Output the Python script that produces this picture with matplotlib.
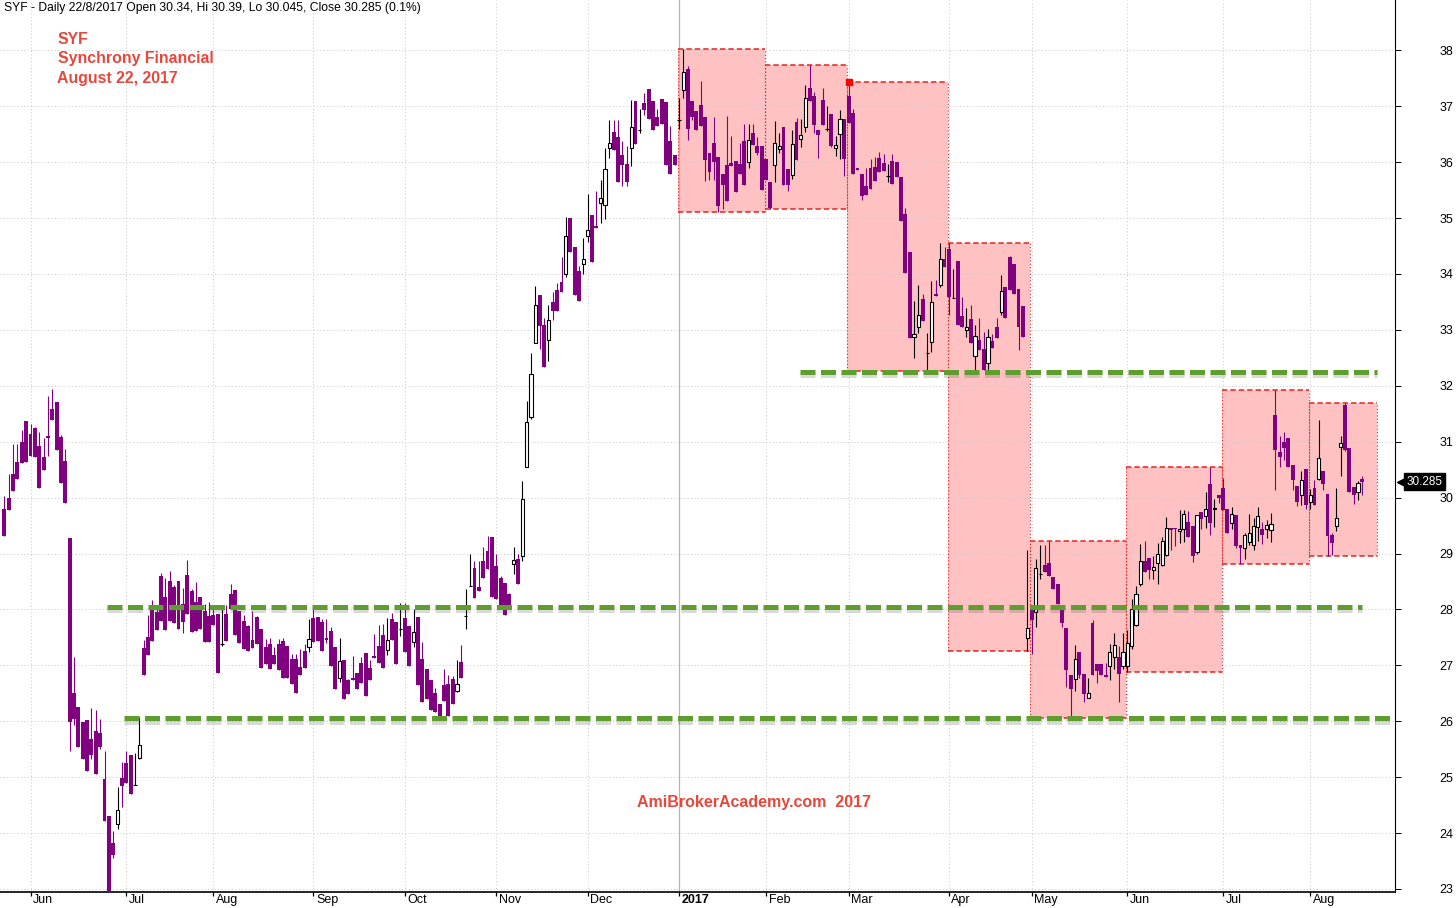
import numpy as np
import matplotlib
matplotlib.use("Agg")
import matplotlib.pyplot as plt
import matplotlib.patheffects as pe
from matplotlib.patches import Rectangle
from matplotlib.transforms import blended_transform_factory, ScaledTranslation

# -------------------------------------------------------
# DATA: daily bars (open, high, low, close), one list per month
# -------------------------------------------------------
may16 = [(29.79, 30.02, 29.31, 29.31), (29.99, 30.42, 29.77, 29.77), (30.43, 30.96, 30.11, 30.11),
         (30.64, 30.96, 30.34, 30.34), (31.00, 31.21, 30.62, 30.62), (31.37, 31.37, 30.64, 30.64)]
jun16 = [(31.14, 31.32, 30.74, 30.74), (31.24, 31.27, 30.72, 30.72), (30.93, 31.18, 30.18, 30.18),
         (30.73, 31.07, 30.49, 30.49), (31.11, 31.82, 30.74, 31.06), (31.59, 31.95, 31.38, 31.38),
         (31.71, 31.71, 30.86, 30.86), (31.09, 31.12, 30.26, 30.26), (30.66, 30.87, 29.90, 29.90),
         (29.27, 29.27, 25.47, 25.99), (26.50, 27.15, 25.94, 26.04), (26.25, 26.26, 25.54, 25.54),
         (25.99, 25.99, 25.32, 25.32), (26.02, 26.02, 25.11, 25.11), (25.68, 26.23, 25.33, 25.40),
         (25.83, 26.21, 25.05, 25.05), (25.79, 26.04, 25.50, 25.54), (24.96, 25.47, 24.22, 24.22),
         (24.30, 24.30, 22.80, 22.90), (23.82, 24.04, 23.55, 23.60), (24.17, 24.82, 24.08, 24.41),
         (24.98, 25.27, 24.47, 24.85)]
jul16 = [(25.25, 25.46, 24.90, 24.90), (25.39, 25.39, 24.69, 24.69), (24.86, 25.44, 24.86, 24.86),
         (25.35, 26.07, 25.33, 25.57), (27.31, 27.46, 26.83, 26.83), (27.51, 27.90, 27.19, 27.19),
         (28.01, 28.16, 27.44, 27.44), (27.96, 28.04, 27.64, 27.64), (28.60, 28.65, 27.80, 27.80),
         (28.22, 28.56, 27.64, 27.64), (28.51, 28.69, 27.80, 27.80), (28.40, 28.43, 27.76, 27.76),
         (28.51, 28.51, 27.65, 27.65), (28.10, 28.39, 27.58, 27.77), (28.62, 28.89, 27.92, 27.92),
         (28.33, 28.37, 27.60, 27.60), (28.13, 28.49, 27.62, 27.62), (28.22, 28.22, 27.65, 27.65),
         (27.98, 28.10, 27.42, 27.42), (27.89, 28.13, 27.41, 27.41)]
aug16 = [(27.90, 28.07, 27.72, 27.72), (27.92, 27.92, 26.87, 26.87), (27.39, 28.02, 27.35, 27.39),
         (27.92, 28.08, 27.44, 27.44), (28.28, 28.46, 28.01, 28.01), (28.35, 28.35, 27.55, 27.55),
         (27.98, 27.98, 27.40, 27.40), (27.80, 27.90, 27.29, 27.29), (27.70, 27.72, 27.26, 27.26),
         (27.46, 27.98, 27.31, 27.31), (27.86, 27.88, 27.38, 27.38), (27.65, 27.65, 26.96, 26.96),
         (27.33, 27.47, 27.03, 27.03), (27.39, 27.49, 26.93, 26.93), (27.18, 27.32, 27.02, 27.02),
         (27.38, 27.47, 26.92, 26.92), (27.43, 27.49, 26.77, 26.77), (27.35, 27.35, 26.77, 26.77),
         (27.11, 27.21, 26.67, 26.67), (27.11, 27.20, 26.51, 26.51), (26.97, 27.29, 26.83, 26.83),
         (27.26, 27.38, 26.96, 26.96), (27.32, 27.83, 27.24, 27.48)]
sep16 = [(27.85, 28.00, 27.41, 27.41), (27.87, 27.87, 27.44, 27.44), (27.77, 27.83, 27.26, 27.26),
         (27.49, 27.83, 27.40, 27.46), (27.62, 27.68, 26.99, 26.99), (27.33, 27.33, 26.58, 26.58),
         (26.78, 27.49, 26.70, 27.08), (27.10, 27.10, 26.39, 26.39), (26.74, 26.76, 26.49, 26.49),
         (26.78, 27.16, 26.73, 26.73), (26.86, 26.86, 26.57, 26.57), (27.04, 27.15, 26.68, 26.68),
         (27.22, 27.22, 26.45, 26.45), (26.96, 27.10, 26.73, 26.73), (27.17, 27.56, 27.14, 27.14),
         (27.34, 27.72, 27.05, 27.05), (27.55, 27.74, 26.96, 26.96), (27.27, 27.85, 27.18, 27.46),
         (27.83, 27.93, 27.46, 27.46), (27.78, 27.78, 27.02, 27.02), (27.65, 28.11, 27.52, 27.65)]
oct16 = [(27.85, 28.11, 27.23, 27.23), (27.71, 27.71, 26.98, 26.98), (27.41, 28.00, 27.32, 27.59),
         (27.86, 27.86, 26.65, 26.65), (27.11, 27.41, 26.34, 26.34), (26.93, 26.93, 26.40, 26.40),
         (26.74, 26.74, 26.21, 26.21), (26.50, 26.60, 26.17, 26.17), (26.30, 26.30, 26.04, 26.10),
         (26.65, 26.93, 26.37, 26.37), (26.67, 26.82, 26.10, 26.10), (26.76, 26.81, 26.31, 26.31),
         (26.54, 27.10, 26.52, 26.66), (27.06, 27.36, 26.78, 26.78), (27.88, 28.36, 27.65, 27.88),
         (28.42, 29.00, 28.42, 28.42), (28.74, 28.87, 28.21, 28.21), (28.40, 28.87, 28.33, 28.33),
         (28.86, 29.12, 28.56, 28.56), (29.04, 29.31, 28.72, 28.72), (29.29, 29.29, 28.23, 28.23)]
nov16 = [(28.77, 28.99, 28.18, 28.18), (28.56, 28.60, 28.07, 28.07), (28.48, 28.48, 27.90, 27.90),
         (28.27, 28.30, 28.00, 28.00), (28.82, 29.11, 28.64, 28.88), (28.90, 28.99, 28.45, 28.45),
         (28.95, 30.29, 28.86, 29.98), (30.55, 31.73, 30.54, 31.36), (31.44, 32.59, 31.40, 32.21),
         (32.77, 33.79, 32.77, 33.45), (33.63, 33.63, 32.65, 33.07), (33.08, 33.21, 32.33, 32.33),
         (32.82, 33.45, 32.44, 33.17), (33.49, 33.67, 33.17, 33.33), (33.72, 33.83, 33.33, 33.33),
         (33.85, 34.31, 33.68, 33.68), (34.00, 35.01, 33.94, 34.68), (35.00, 35.00, 34.40, 34.40),
         (34.49, 34.49, 33.62, 33.62), (34.06, 34.15, 33.51, 33.51), (34.18, 34.64, 34.00, 34.27)]
dec16 = [(34.68, 35.43, 34.58, 34.79), (35.06, 35.06, 34.21, 34.21), (34.85, 35.48, 34.82, 34.82),
         (35.27, 35.68, 34.92, 35.36), (35.23, 36.25, 34.99, 35.88), (36.26, 36.76, 36.08, 36.34),
         (36.54, 36.76, 36.22, 36.22), (36.45, 36.76, 35.64, 35.64), (36.13, 36.37, 35.58, 35.95),
         (35.96, 36.28, 35.58, 35.64), (36.25, 37.11, 35.93, 36.63), (37.10, 37.10, 36.32, 36.32),
         (36.58, 36.95, 36.52, 36.58), (37.06, 37.24, 36.85, 36.93), (37.31, 37.31, 36.78, 36.78),
         (37.10, 37.10, 36.57, 36.57), (36.81, 36.95, 36.65, 36.65), (37.13, 37.13, 36.69, 36.69),
         (37.08, 37.08, 35.94, 35.94), (36.38, 36.65, 35.78, 35.78), (36.13, 36.13, 35.95, 35.95)]
jan17 = [(36.75, 37.15, 36.60, 36.75), (37.29, 38.03, 37.14, 37.61), (37.67, 37.72, 36.40, 36.60),
         (37.10, 37.10, 36.75, 36.80), (36.92, 36.92, 36.58, 36.58), (37.02, 37.46, 36.65, 36.65),
         (36.81, 36.81, 35.67, 36.04), (36.16, 36.16, 35.68, 35.83), (36.35, 36.81, 35.68, 36.00),
         (36.10, 36.10, 35.10, 35.21), (35.79, 35.79, 35.17, 35.60), (35.95, 36.82, 35.31, 35.31),
         (35.98, 36.46, 35.93, 35.93), (36.02, 36.02, 35.47, 35.47), (35.97, 36.35, 35.78, 35.78),
         (36.37, 36.68, 35.60, 35.60), (36.01, 36.68, 35.89, 36.39), (36.52, 36.68, 36.31, 36.31),
         (36.29, 36.45, 36.13, 36.16), (36.29, 36.29, 35.51, 35.51)]
feb17 = [(36.06, 36.06, 35.68, 35.68), (35.65, 35.65, 35.16, 35.18), (35.94, 36.73, 35.65, 36.34),
         (36.24, 36.52, 36.17, 36.29), (36.63, 36.63, 35.60, 35.60), (35.88, 35.88, 35.49, 35.60),
         (35.77, 36.58, 35.69, 36.32), (36.72, 36.79, 36.04, 36.04), (36.42, 36.77, 36.27, 36.48),
         (36.62, 37.38, 36.54, 37.14), (37.32, 37.74, 37.10, 37.10), (37.18, 37.26, 36.53, 36.67),
         (36.58, 36.58, 36.07, 36.49), (37.11, 37.32, 36.67, 36.67), (36.60, 37.00, 36.55, 36.60),
         (36.86, 36.86, 36.27, 36.29), (36.25, 36.47, 36.11, 36.30), (36.50, 36.93, 36.06, 36.77),
         (36.77, 36.77, 35.76, 36.06)]
mar17 = [(37.18, 37.43, 36.70, 36.70), (36.88, 36.95, 35.78, 35.78), (35.90, 35.90, 35.86, 35.86),
         (35.78, 35.78, 35.32, 35.39), (35.57, 35.90, 35.41, 35.41), (35.90, 36.06, 35.52, 35.52),
         (35.92, 36.10, 35.66, 35.66), (36.08, 36.18, 35.83, 35.83), (35.99, 36.15, 35.84, 35.84),
         (35.75, 35.96, 35.65, 35.75), (36.02, 36.15, 35.61, 35.61), (36.00, 36.00, 35.73, 35.73),
         (35.73, 35.73, 34.95, 34.95), (35.07, 35.18, 34.02, 34.02), (34.39, 34.39, 32.86, 32.86),
         (32.88, 33.52, 32.49, 32.92), (33.06, 33.80, 32.94, 33.26), (33.55, 33.65, 33.15, 33.15),
         (32.58, 32.94, 32.27, 32.58), (32.79, 33.88, 32.61, 33.49), (33.64, 33.90, 33.61, 33.61),
         (33.80, 34.56, 33.77, 34.26), (34.26, 34.49, 34.13, 34.13)]
apr17 = [(34.44, 34.55, 33.26, 33.59), (33.57, 34.08, 33.57, 33.57), (34.23, 34.23, 33.09, 33.09),
         (33.24, 33.58, 33.06, 33.06), (33.00, 33.39, 32.88, 33.05), (33.20, 33.45, 32.76, 32.76),
         (32.54, 33.09, 32.29, 32.89), (32.82, 33.21, 32.64, 32.64), (32.66, 32.97, 32.29, 32.29),
         (32.40, 33.01, 32.29, 32.87), (32.80, 32.93, 32.68, 32.68), (33.05, 33.21, 32.85, 32.85),
         (33.32, 33.98, 33.27, 33.70), (33.77, 33.77, 33.22, 33.22), (34.31, 34.32, 33.71, 33.71),
         (34.17, 34.17, 33.65, 33.65), (33.73, 33.73, 32.64, 33.06), (33.43, 33.43, 32.88, 32.88),
         (27.49, 29.07, 27.26, 27.67)]
may17 = [(28.00, 28.00, 27.21, 27.81), (27.95, 28.90, 27.69, 28.74), (28.64, 29.16, 28.54, 28.64),
         (28.79, 29.16, 28.67, 28.67), (28.83, 29.23, 28.60, 28.60), (28.58, 28.58, 28.36, 28.36),
         (28.45, 28.45, 28.09, 28.09), (28.00, 28.00, 27.69, 27.76), (27.67, 27.67, 26.62, 26.92),
         (26.82, 26.82, 26.06, 26.58), (26.76, 27.36, 26.54, 27.11), (27.23, 27.23, 26.78, 26.83),
         (26.84, 26.84, 26.35, 26.49), (26.42, 26.77, 26.42, 26.50), (27.76, 27.81, 26.83, 26.83),
         (27.02, 27.02, 26.68, 26.90), (27.02, 27.02, 26.83, 26.83), (26.83, 27.05, 26.79, 26.79),
         (26.98, 27.38, 26.74, 27.23), (27.15, 27.58, 26.93, 27.36), (27.15, 27.35, 26.35, 26.84),
         (26.99, 27.58, 26.94, 27.24)]
jun17 = [(26.98, 27.64, 26.88, 27.40), (27.35, 28.18, 27.29, 28.01), (27.72, 28.42, 27.70, 28.28),
         (28.46, 29.17, 28.42, 28.86), (28.86, 29.22, 28.67, 28.67), (28.92, 28.92, 28.54, 28.70),
         (28.70, 28.96, 28.54, 28.76), (28.83, 29.18, 28.45, 29.00), (28.80, 29.30, 28.77, 29.22),
         (28.98, 29.65, 28.96, 29.46), (29.46, 29.46, 29.07, 29.42), (29.46, 29.46, 29.13, 29.43),
         (29.40, 29.77, 29.19, 29.44), (29.44, 29.77, 29.20, 29.70), (29.57, 29.76, 29.29, 29.29),
         (29.50, 29.50, 28.85, 28.95), (29.02, 29.68, 29.00, 29.68), (29.75, 29.75, 29.44, 29.61),
         (29.67, 30.10, 29.45, 29.80), (30.25, 30.55, 29.34, 29.54), (29.79, 29.98, 29.48, 29.82),
         (30.05, 30.05, 29.90, 30.00)]
jul17 = [(30.18, 30.35, 29.77, 29.77), (29.80, 29.80, 29.37, 29.37), (29.54, 29.83, 29.43, 29.70),
         (29.68, 29.68, 29.10, 29.13), (29.16, 29.16, 28.82, 29.10), (29.10, 29.37, 28.91, 29.34),
         (29.20, 29.70, 29.16, 29.36), (29.15, 29.63, 29.07, 29.49), (29.48, 29.83, 29.22, 29.67),
         (29.43, 29.56, 29.17, 29.33), (29.43, 29.60, 29.27, 29.51), (29.42, 29.73, 29.20, 29.53),
         (31.48, 31.93, 30.13, 30.86), (30.81, 31.11, 30.54, 30.72), (30.99, 31.18, 30.68, 30.88),
         (31.07, 31.07, 30.55, 30.55), (30.59, 30.59, 30.13, 30.32), (30.20, 30.20, 29.85, 29.93),
         (30.04, 30.47, 29.87, 30.32), (30.52, 30.52, 29.79, 29.86)]
aug17 = [(29.92, 30.16, 29.80, 30.05), (30.18, 30.31, 29.86, 29.86), (30.33, 31.39, 30.32, 30.71),
         (30.48, 30.48, 30.13, 30.24), (30.07, 30.07, 28.95, 29.31), (29.34, 29.36, 28.97, 29.19),
         (29.49, 30.17, 29.41, 29.64), (30.90, 31.11, 30.38, 30.98), (31.66, 31.70, 30.83, 30.86),
         (30.88, 30.88, 30.10, 30.10), (30.19, 30.19, 29.89, 30.05), (30.10, 30.29, 29.96, 30.26),
         (30.34, 30.39, 30.045, 30.285)]

months = [may16, jun16, jul16, aug16, sep16, oct16, nov16, dec16,
          jan17, feb17, mar17, apr17, may17, jun17, jul17, aug17]
month_labels = ["", "Jun", "Jul", "Aug", "Sep", "Oct", "Nov", "Dec",
                "2017", "Feb", "Mar", "Apr", "May", "Jun", "Jul", "Aug"]
box_months = [8, 9, 10, 11, 12, 13, 14, 15]     # Jan..Aug 2017 get a range box

# support / resistance levels and the bar range they span
levels = [32.25, 28.05, 26.05]
level_spans = [(182.8, 315.4), (23.6, 312.0), (27.5, 318.4)]

header = "SYF - Daily 22/8/2017 Open 30.34, Hi 30.39, Lo 30.045, Close 30.285 (0.1%)"

# -------------------------------------------------------
# PREP
# -------------------------------------------------------
bars = np.array([b for m in months for b in m])
o, h, l, c = bars.T
x = np.arange(len(bars))
starts = [int(v) for v in np.cumsum([0] + [len(m) for m in months])[:-1]]

PURPLE = "#800080"
RED = "#E8231E"
TXT_RED = "#E8473C"
GREEN = "#5E9E2E"
GRID = "#C8C8C8"
FONT = "Liberation Sans"

W, H = 1456, 908
fig = plt.figure(figsize=(W / 100, H / 100), dpi=100, facecolor="white")
ax = fig.add_axes([0, 1 - 892 / H, 1395 / W, 892 / H])
ax.set_xlim(-1.01, 319.5)
ax.set_ylim(22.946, 38.9)

# monthly range boxes
for k in box_months:
    s = starts[k]
    e = starts[k + 1] if k + 1 < len(months) else len(bars)
    hi = h[s:e].max()
    lo = l[s:e].min()
    x0 = s - 0.3
    x1 = (e - 0.3) if k + 1 < len(months) else (e + 2.4)
    ax.add_patch(Rectangle((x0, lo), x1 - x0, hi - lo, facecolor="#FFC1C1",
                           edgecolor="none", zorder=1))
    ax.hlines([lo, hi], x0, x1, colors=RED, lw=1.1, linestyles=(0, (3.5, 2)), zorder=2)
    ax.vlines([x0, x1], lo, hi, colors=RED, lw=0.8, linestyles=(0, (1, 2)), zorder=2)

# grid
ax.set_yticks(np.arange(23, 39))
ax.grid(axis="y", color=GRID, lw=0.7, ls=(0, (1, 2.5)), zorder=1.5)
for s, name in zip(starts[1:], month_labels[1:]):
    if name == "2017":
        ax.axvline(s, color="#B4B4B4", lw=0.9, zorder=1.5)
    else:
        ax.axvline(s, color=GRID, lw=0.7, ls=(0, (1, 2.5)), zorder=1.5)

# candles
up = c >= o
dn = ~up
ax.vlines(x[dn], l[dn], h[dn], color=PURPLE, lw=0.8, zorder=3)
ax.vlines(x[up], l[up], h[up], color="black", lw=0.8, zorder=3)
ax.bar(x[dn], (o - c)[dn], bottom=c[dn], width=0.9, color=PURPLE, lw=0, zorder=4)
ax.bar(x[up], (c - o)[up], bottom=o[up], width=0.72, facecolor="white",
       edgecolor="black", lw=0.8, zorder=4)

# marker on the bar with the March high
mar_i = starts[10]
ax.plot(mar_i, h[mar_i], "s", color="red", ms=4.5, zorder=6)

# support / resistance dashed lines
for lev, (a, b) in zip(levels, level_spans):
    ax.plot([a, b], [lev, lev], color=GREEN, lw=3.6, dashes=(3.0, 1.1),
            solid_capstyle="butt", dash_capstyle="butt", zorder=5,
            path_effects=[pe.SimpleLineShadow(offset=(0, -2.5), shadow_color="#555555",
                                              alpha=0.22, rho=1.0),
                          pe.Normal()])

# axes styling
for side in ["left", "top"]:
    ax.spines[side].set_visible(False)
ax.spines["right"].set_color("black")
ax.spines["bottom"].set_color("black")
ax.spines["bottom"].set_linewidth(1.2)
ax.yaxis.tick_right()
ax.tick_params(axis="y", direction="out", length=4, width=0.7, color="black",
               labelsize=9, pad=28, labelcolor="black")
ax.set_xticks(starts[1:])
ax.set_xticklabels(month_labels[1:])
ax.tick_params(axis="x", direction="out", length=3.0, width=0.9, color="black",
               labelsize=9, pad=-1.8, labelcolor="black")
for lbl in ax.get_xticklabels() + ax.get_yticklabels():
    lbl.set_family(FONT)
shift = ScaledTranslation(2.5 / 100, 0, fig.dpi_scale_trans)
for lbl in ax.get_xticklabels():
    lbl.set_horizontalalignment("left")
    lbl.set_transform(lbl.get_transform() + shift)
    if lbl.get_text() == "2017":
        lbl.set_fontweight("bold")

# last price tag
trans = blended_transform_factory(ax.transAxes, ax.transData)
last = c[-1]
ax.plot(1.004, last, marker="<", color="black", ms=6, transform=trans, clip_on=False, zorder=7)
ax.text(1.008, last, f"{last:.3f}", transform=trans, color="white", fontsize=8.5,
        family=FONT, va="center", ha="left", clip_on=False, zorder=8,
        bbox=dict(boxstyle="square,pad=0.22", fc="black", ec="black"))

# texts
def fpos(px, py):
    return px / W, 1 - py / H

fig.text(*fpos(4, 8), header, fontsize=8.7, family=FONT, va="center", ha="left")
fig.text(*fpos(58, 40), "SYF", fontsize=11.4, family=FONT, weight="bold",
         color=TXT_RED, va="center", ha="left")
fig.text(*fpos(58, 59), "Synchrony Financial", fontsize=11.4, family=FONT,
         weight="bold", color=TXT_RED, va="center", ha="left")
fig.text(*fpos(57, 78), "August 22, 2017", fontsize=11.4, family=FONT,
         weight="bold", color=TXT_RED, va="center", ha="left")
fig.text(*fpos(637, 802), "AmiBrokerAcademy.com  2017", fontsize=11.5, family=FONT,
         weight="bold", color=TXT_RED, va="center", ha="left")

fig.savefig("out.png", dpi=100, facecolor="white")
